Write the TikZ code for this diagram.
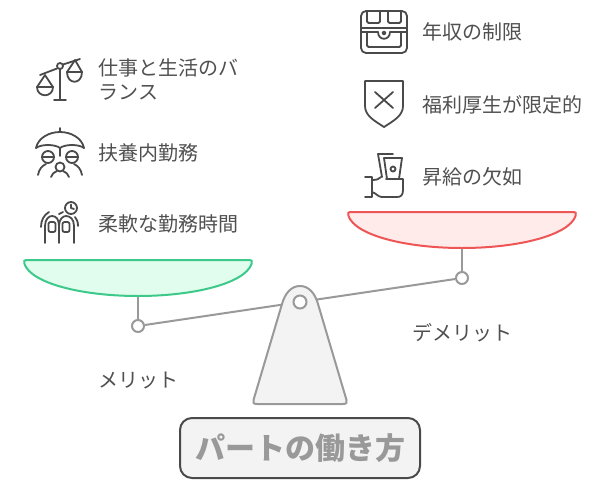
\documentclass[tikz,border=0pt]{standalone}
\usepackage{fontspec}
\setmainfont{Noto Sans CJK JP}
\definecolor{inkgray}{HTML}{4A4A4A}
\definecolor{textgray}{HTML}{505050}
\definecolor{beamgray}{HTML}{999999}
\definecolor{paperbg}{HTML}{F3F3F3}
\definecolor{meritline}{HTML}{3CC98A}
\definecolor{meritfill}{HTML}{E1FDEE}
\definecolor{demeritline}{HTML}{EE5555}
\definecolor{demeritfill}{HTML}{FFECEA}
\tikzset{
  label text/.style={anchor=west, inner sep=0pt, text=textgray, align=left, font=\fontsize{20}{24}\selectfont},
  icon line/.style={draw=inkgray, line width=1.8pt, line cap=round, line join=round},
  beam line/.style={draw=beamgray, line width=2pt},
  pin/.style={circle, draw=beamgray, fill=white, line width=2pt, inner sep=0pt, minimum size=12pt},
}
\begin{document}
\begin{tikzpicture}[x=1pt,y=-1pt]
    \useasboundingbox (0,0) rectangle (612,488);
    % pans
    \draw[draw=meritline, fill=meritfill, line width=2pt] (27,260) -- (249,260)
        .. controls (252,260) and (252.5,261.5) .. (251.5,264)
        .. controls (245,283) and (195,296) .. (138,296) .. controls (81,296) and (31,283) .. (24.5,264)
        .. controls (23.5,261.5) and (24,260) .. (27,260) -- cycle;
    \draw[draw=demeritline, fill=demeritfill, line width=2pt] (351,212) -- (573,212)
        .. controls (576,212) and (576.5,213.5) .. (575.5,216)
        .. controls (569,235) and (519,248) .. (462,248) .. controls (405,248) and (355,235) .. (348.5,216)
        .. controls (347.5,213.5) and (348,212) .. (351,212) -- cycle;
    \coordinate (panL) at (138,297);
    \coordinate (panR) at (462,249);
    \coordinate (hubc) at (300,302);
    \node[pin] (pivotL) at (138,326) {};
    \node[pin] (pivotR) at (462,278) {};
    \draw[beam line] (panL) -- (pivotL);
    \draw[beam line] (panR) -- (pivotR);
    \draw[beam line] (pivotL) -- (hubc);
    \draw[beam line] (pivotR) -- (hubc);
    % stand
    \draw[draw=beamgray, fill=paperbg, line width=2pt] (257,404)
        .. controls (253.5,404) and (252.5,402.5) .. (253.5,400) -- (282,304)
        .. controls (285,293.5) and (291,286) .. (300,286) .. controls (309,286) and (315,293.5) .. (318,304)
        -- (346.5,400) .. controls (347.5,402.5) and (346.5,404) .. (343,404) -- cycle;
    \node[pin, minimum size=13pt] (hub) at (hubc) {};
    % labels
    \node[label text] (work) at (98.5,80) {仕事と生活のバ\\ランス};
    \node[label text] (dependent) at (98.5,152.5) {扶養内勤務};
    \node[label text] (flex) at (98.5,223.5) {柔軟な勤務時間};
    \node[label text] (income) at (422,31.5) {年収の制限};
    \node[label text] (welfare) at (422,104.5) {福利厚生が限定的};
    \node[label text] (raise) at (422,176.5) {昇給の欠如};
    \node[label text] (merit) at (98.5,380.5) {メリット};
    \node[label text] (demerit) at (412.5,332.5) {デメリット};
    % title
    \node[draw=inkgray, fill=paperbg, line width=2pt, rounded corners=12pt, minimum width=240pt, minimum height=60pt,
        text=beamgray, font=\fontsize{30}{36}\selectfont\bfseries] (title) at (300,448) {パートの働き方};
    % scales icon
    \draw[icon line] (60,69) -- (60,100) (54,100) -- (66,100);
    \draw[icon line] (40,75) -- (57,68.5) (63,64.5) -- (80,59);
    \draw[icon line] (60,66) circle (3);
    \draw[icon line] (37,87) -- (45,75) -- (53,87) -- cycle;
    \draw[icon line] (37,87) .. controls (37,98) and (53,98) .. (53,87);
    \draw[icon line] (67,72) -- (75,60) -- (82,72) -- cycle;
    \draw[icon line] (67,72) .. controls (67,85) and (82,85) .. (82,72);
    % umbrella icon
    \draw[icon line] (60,128) -- (60,132);
    \draw[icon line] (36,148) .. controls (38,138) and (49,132) .. (60,132) .. controls (71,132) and (82,138) .. (84,148);
    \draw[icon line] (36,148) .. controls (41,144) and (55,144) .. (60,148) .. controls (65,144) and (79,144) .. (84,148);
    \draw[icon line] (60,148) -- (60,156);
    \draw[icon line] (48,157) circle (6) (72,157) circle (6) (60,167) circle (4.5);
    \draw[icon line] (42,157) -- (54,157) (66,157) -- (78,157);
    \draw[icon line] (38,175) .. controls (39,169) and (42,166) .. (46,164);
    \draw[icon line] (82,175) .. controls (81,169) and (78,166) .. (74,164);
    \draw[icon line] (51,177) .. controls (52,174) and (54,172) .. (57,171);
    \draw[icon line] (69,177) .. controls (68,174) and (66,172) .. (63,171);
    % fingers icon
    \draw[icon line] (71,208) circle (6);
    \draw[icon line] (71,204.5) -- (71,208) -- (74,209);
    \draw[icon line] (45,243) -- (45,226) .. controls (45,219) and (49,216) .. (52,216) .. controls (56,216) and (59,219) .. (59,226) -- (59,243);
    \draw[icon line] (59,226) .. controls (59,219) and (63,216) .. (66,216) .. controls (70,216) and (74,219) .. (74,226) -- (74,243);
    \draw[icon line, rounded corners=2pt] (48.5,232) -- (48.5,222) -- (55.5,222) -- (55.5,232) -- cycle;
    \draw[icon line, rounded corners=2pt] (62.5,232) -- (62.5,222) -- (69.5,222) -- (69.5,232) -- cycle;
    \draw[icon line] (41,227) .. controls (41,220) and (44,215) .. (49,212);
    \draw[icon line] (78,226) .. controls (78,222) and (77,219) .. (75,217);
    \draw[icon line] (59,214) -- (63,212);
    % chest icon
    \draw[icon line, rounded corners=5pt] (361,11) rectangle (407,53);
    \draw[icon line] (361,28) -- (407,28) (361,32) -- (378,32) (390,32) -- (407,32);
    \draw[icon line, rounded corners=1.5pt] (367,11) -- (367,23) -- (380,23) -- (380,11);
    \draw[icon line, rounded corners=1.5pt] (388,11) -- (388,23) -- (401,23) -- (401,11);
    \draw[icon line, rounded corners=1.5pt] (367,32) -- (367,47) -- (401,47) -- (401,32);
    \draw[icon line] (378,32) .. controls (378,41) and (390,41) .. (390,32);
    \draw[icon line] (384,33) circle (1.5);
    % shield icon
    \draw[icon line] (365,81) -- (403,81) -- (403,106) .. controls (403,116) and (393,121) .. (384,127) .. controls (375,121) and (365,116) .. (365,106) -- cycle;
    \draw[icon line] (375,92) -- (393,108) (393,92) -- (375,108);
    % pay icon
    \draw[icon line] (378,154) -- (393,154);
    \draw[icon line] (378,154) -- (382,177);
    \draw[icon line] (384,158) -- (402,158) -- (399,179) -- (387,179) -- cycle;
    \draw[icon line] (393,169) circle (2.5);
    \draw[icon line] (365,177) -- (372,177) -- (372,197) -- (365,197);
    \draw[icon line] (372,180) .. controls (377,180) and (379,179) .. (381,177);
    \draw[icon line] (386,179) -- (403,179) -- (403,190) .. controls (403,195) and (401,197) .. (397,197) -- (382,197) .. controls (378,197) and (376,193) .. (372,192);
\end{tikzpicture}
\end{document}
